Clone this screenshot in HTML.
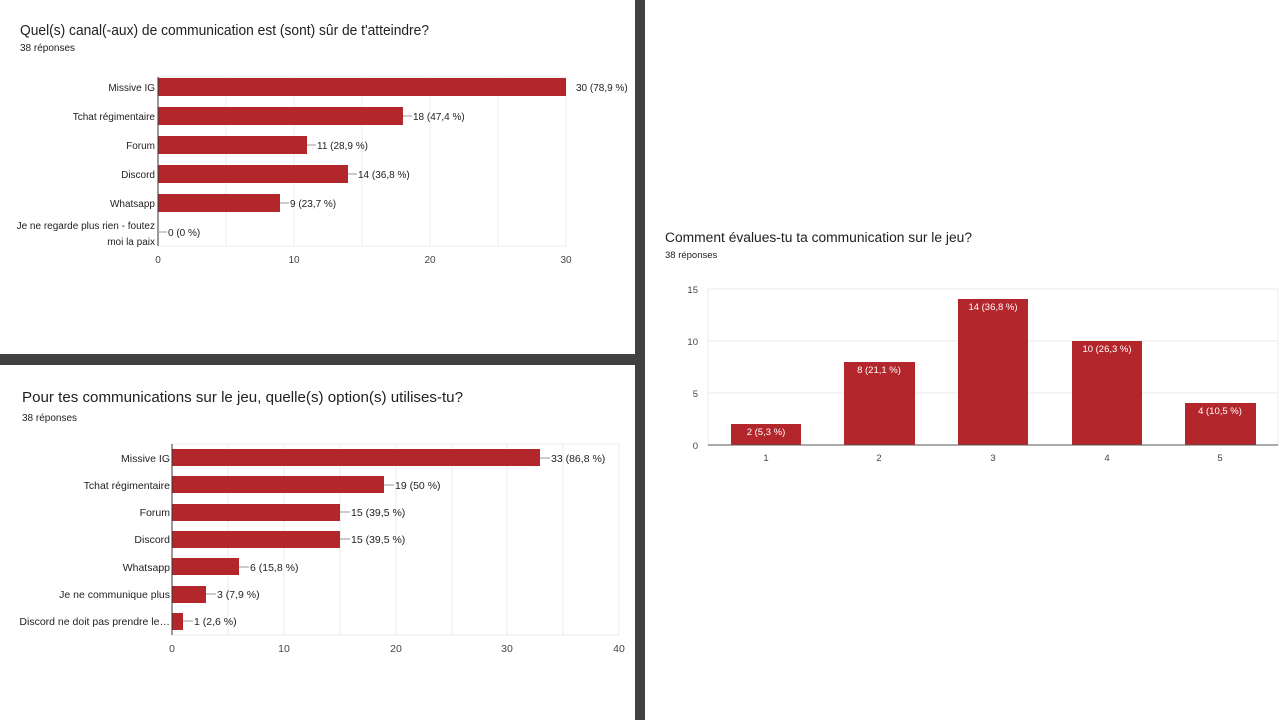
<!DOCTYPE html>
<html><head><meta charset="utf-8"><style>
html,body{margin:0;padding:0;background:#fff;}
svg{display:block;font-family:"Liberation Sans",Arial,sans-serif;}
</style></head><body>
<svg width="1280" height="720" viewBox="0 0 1280 720" xmlns="http://www.w3.org/2000/svg">
<rect width="1280" height="720" fill="#fff"/>
<rect x="635" y="0" width="10" height="720" fill="#404040"/>
<rect x="0" y="354" width="635" height="11" fill="#404040"/>

<!-- Chart 1 -->
<text x="20" y="35" font-size="14.5" fill="#202124" textLength="409" lengthAdjust="spacingAndGlyphs">Quel(s) canal(-aux) de communication est (sont) sûr de t'atteindre?</text>
<text x="20" y="51" font-size="10" fill="#202124">38 réponses</text>
<g stroke="#ebebeb" stroke-width="1">
<line x1="226" y1="77" x2="226" y2="246"/><line x1="294" y1="77" x2="294" y2="246"/><line x1="362" y1="77" x2="362" y2="246"/><line x1="430" y1="77" x2="430" y2="246"/><line x1="498" y1="77" x2="498" y2="246"/><line x1="566" y1="77" x2="566" y2="246"/>
<line x1="158" y1="77" x2="566" y2="77"/><line x1="158" y1="246" x2="566" y2="246"/>
</g>
<g fill="#b3262b">
<rect x="158" y="78" width="408" height="18"/>
<rect x="158" y="107" width="245" height="18"/>
<rect x="158" y="136" width="149" height="18"/>
<rect x="158" y="165" width="190" height="18"/>
<rect x="158" y="194" width="122" height="18"/>
</g>
<line x1="158" y1="77" x2="158" y2="246" stroke="#333" stroke-width="1"/>
<g stroke="#999" stroke-width="1">
<line x1="403" y1="116" x2="412" y2="116"/><line x1="307" y1="145" x2="316" y2="145"/><line x1="348" y1="174" x2="357" y2="174"/><line x1="280" y1="203" x2="289" y2="203"/><line x1="158" y1="232" x2="167" y2="232"/>
</g>
<g font-size="10" fill="#222" text-anchor="end">
<text x="155" y="91">Missive IG</text>
<text x="155" y="120">Tchat régimentaire</text>
<text x="155" y="149">Forum</text>
<text x="155" y="178">Discord</text>
<text x="155" y="207">Whatsapp</text>
<text x="155" y="229">Je ne regarde plus rien - foutez</text>
<text x="155" y="245">moi la paix</text>
</g>
<g font-size="10" fill="#222">
<text x="576" y="91">30 (78,9 %)</text>
<text x="413" y="120">18 (47,4 %)</text>
<text x="317" y="149">11 (28,9 %)</text>
<text x="358" y="178">14 (36,8 %)</text>
<text x="290" y="207">9 (23,7 %)</text>
<text x="168" y="236">0 (0 %)</text>
</g>
<g font-size="10" fill="#444" text-anchor="middle">
<text x="158" y="263">0</text><text x="294" y="263">10</text><text x="430" y="263">20</text><text x="566" y="263">30</text>
</g>

<!-- Chart 2 -->
<text x="22" y="402" font-size="14.5" fill="#202124" textLength="441" lengthAdjust="spacingAndGlyphs">Pour tes communications sur le jeu, quelle(s) option(s) utilises-tu?</text>
<text x="22" y="421" font-size="10" fill="#202124">38 réponses</text>
<g stroke="#ebebeb" stroke-width="1">
<line x1="228" y1="444" x2="228" y2="635"/><line x1="284" y1="444" x2="284" y2="635"/><line x1="340" y1="444" x2="340" y2="635"/><line x1="396" y1="444" x2="396" y2="635"/><line x1="452" y1="444" x2="452" y2="635"/><line x1="507" y1="444" x2="507" y2="635"/><line x1="563" y1="444" x2="563" y2="635"/><line x1="619" y1="444" x2="619" y2="635"/>
<line x1="172" y1="444" x2="619" y2="444"/><line x1="172" y1="635" x2="619" y2="635"/>
</g>
<g fill="#b3262b">
<rect x="172" y="449" width="368" height="17"/>
<rect x="172" y="476" width="212" height="17"/>
<rect x="172" y="504" width="168" height="17"/>
<rect x="172" y="531" width="168" height="17"/>
<rect x="172" y="558" width="67" height="17"/>
<rect x="172" y="586" width="34" height="17"/>
<rect x="172" y="613" width="11" height="17"/>
</g>
<line x1="172" y1="444" x2="172" y2="635" stroke="#333" stroke-width="1"/>
<g stroke="#999" stroke-width="1">
<line x1="540" y1="458" x2="550" y2="458"/><line x1="384" y1="485" x2="394" y2="485"/><line x1="340" y1="512" x2="350" y2="512"/><line x1="340" y1="539" x2="350" y2="539"/><line x1="239" y1="567" x2="249" y2="567"/><line x1="206" y1="594" x2="216" y2="594"/><line x1="183" y1="621" x2="193" y2="621"/>
</g>
<g font-size="10.5" fill="#222" text-anchor="end">
<text x="170" y="462">Missive IG</text>
<text x="170" y="489">Tchat régimentaire</text>
<text x="170" y="516">Forum</text>
<text x="170" y="543">Discord</text>
<text x="170" y="571">Whatsapp</text>
<text x="170" y="598">Je ne communique plus</text>
<text x="170" y="625">Discord ne doit pas prendre le…</text>
</g>
<g font-size="10.5" fill="#222">
<text x="551" y="462">33 (86,8 %)</text>
<text x="395" y="489">19 (50 %)</text>
<text x="351" y="516">15 (39,5 %)</text>
<text x="351" y="543">15 (39,5 %)</text>
<text x="250" y="571">6 (15,8 %)</text>
<text x="217" y="598">3 (7,9 %)</text>
<text x="194" y="625">1 (2,6 %)</text>
</g>
<g font-size="10.5" fill="#444" text-anchor="middle">
<text x="172" y="652">0</text><text x="284" y="652">10</text><text x="396" y="652">20</text><text x="507" y="652">30</text><text x="619" y="652">40</text>
</g>

<!-- Chart 3 -->
<text x="665" y="242" font-size="13.5" fill="#202124" textLength="307" lengthAdjust="spacingAndGlyphs">Comment évalues-tu ta communication sur le jeu?</text>
<text x="665" y="258" font-size="9.5" fill="#202124">38 réponses</text>
<g stroke="#ebebeb" stroke-width="1">
<line x1="708" y1="289" x2="1278" y2="289"/><line x1="708" y1="341" x2="1278" y2="341"/><line x1="708" y1="393" x2="1278" y2="393"/>
<line x1="708" y1="289" x2="708" y2="445"/><line x1="1278" y1="289" x2="1278" y2="445"/>
</g>
<g fill="#b3262b">
<rect x="731" y="424" width="70" height="21"/>
<rect x="844" y="362" width="71" height="83"/>
<rect x="958" y="299" width="70" height="146"/>
<rect x="1072" y="341" width="70" height="104"/>
<rect x="1185" y="403" width="71" height="42"/>
</g>
<line x1="708" y1="445" x2="1278" y2="445" stroke="#555" stroke-width="1"/>
<g font-size="9.5" fill="#fff" text-anchor="middle">
<text x="766" y="435">2 (5,3 %)</text>
<text x="879" y="373">8 (21,1 %)</text>
<text x="993" y="310">14 (36,8 %)</text>
<text x="1107" y="352">10 (26,3 %)</text>
<text x="1220" y="414">4 (10,5 %)</text>
</g>
<g font-size="9.5" fill="#444" text-anchor="end">
<text x="698" y="293">15</text><text x="698" y="345">10</text><text x="698" y="397">5</text><text x="698" y="449">0</text>
</g>
<g font-size="9.5" fill="#444" text-anchor="middle">
<text x="766" y="461">1</text><text x="879" y="461">2</text><text x="993" y="461">3</text><text x="1107" y="461">4</text><text x="1220" y="461">5</text>
</g>
</svg>
</body></html>
